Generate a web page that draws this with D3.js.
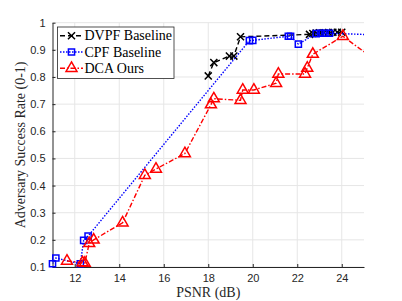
<!DOCTYPE html>
<html>
<head>
<meta charset="utf-8">
<script src="https://cdn.jsdelivr.net/npm/d3@7"></script>
<style>
  body { margin: 0; background: #fff; }
  svg { display: block; }
</style>
</head>
<body>
<svg id="chart"></svg>
<script>
// PSNR (dB) vs success rate
var dvpf = [
  {x: 18.0, y: 0.804}, {x: 18.25, y: 0.853}, {x: 18.95, y: 0.877}, {x: 19.15, y: 0.877},
  {x: 19.45, y: 0.948}, {x: 22.55, y: 0.957}, {x: 22.7, y: 0.960}, {x: 22.85, y: 0.962},
  {x: 23.0, y: 0.963}, {x: 23.2, y: 0.963}, {x: 23.4, y: 0.964}, {x: 23.6, y: 0.965},
  {x: 23.8, y: 0.965}, {x: 24.0, y: 0.965}
];

var cpf = [
  {x: 11.0, y: 0.112}, {x: 11.15, y: 0.133}, {x: 12.25, y: 0.112}, {x: 12.4, y: 0.198},
  {x: 12.6, y: 0.214}, {x: 19.85, y: 0.934}, {x: 20.0, y: 0.935}, {x: 21.6, y: 0.950},
  {x: 21.7, y: 0.950}, {x: 22.05, y: 0.921}, {x: 22.85, y: 0.960}, {x: 23.05, y: 0.961},
  {x: 23.25, y: 0.961}, {x: 23.45, y: 0.961}, {x: 25.6, y: 0.955}
];

var dca = [
  {x: 11.65, y: 0.122}, {x: 12.35, y: 0.116}, {x: 12.45, y: 0.114}, {x: 12.65, y: 0.187},
  {x: 12.85, y: 0.200}, {x: 14.15, y: 0.263}, {x: 15.15, y: 0.438}, {x: 15.65, y: 0.461},
  {x: 16.95, y: 0.518}, {x: 18.12, y: 0.698}, {x: 18.25, y: 0.720}, {x: 19.45, y: 0.714},
  {x: 19.55, y: 0.752}, {x: 20.05, y: 0.752}, {x: 21.05, y: 0.777}, {x: 21.15, y: 0.811},
  {x: 22.35, y: 0.811}, {x: 22.45, y: 0.833}, {x: 22.7, y: 0.884}, {x: 24.05, y: 0.950},
  {x: 25.6, y: 0.857}
];

var xTicks = [12, 14, 16, 18, 20, 22, 24];
var yTicks = [0.1, 0.2, 0.3, 0.4, 0.5, 0.6, 0.7, 0.8, 0.9, 1];
var names = ["DVPF Baseline", "CPF Baseline", "DCA Ours"];

var width = 402, height = 301;
var plotLeft = 52.5, plotRight = 364, plotTop = 22.7, plotBottom = 267;

var svg = d3.select("#chart")
    .attr("width", width)
    .attr("height", height);

var xScale = d3.scaleLinear().domain([11, 25]).range([plotLeft, plotRight]);
var yScale = d3.scaleLinear().domain([0.1, 1]).range([plotBottom, plotTop]);

var axisColor = "#262626";
var sans = "'Liberation Sans', Arial, sans-serif";
var serif = "'DejaVu Serif', 'Liberation Serif', serif";

// grid
svg.append("g").selectAll("line").data(xTicks).enter().append("line")
    .attr("x1", function(d) { return xScale(d); })
    .attr("x2", function(d) { return xScale(d); })
    .attr("y1", plotTop).attr("y2", plotBottom)
    .attr("stroke", "#e6e6e6").attr("stroke-width", 1);

svg.append("g").selectAll("line").data(yTicks).enter().append("line")
    .attr("x1", plotLeft).attr("x2", plotRight)
    .attr("y1", function(d) { return yScale(d); })
    .attr("y2", function(d) { return yScale(d); })
    .attr("stroke", "#e6e6e6").attr("stroke-width", 1);

// axes
var xAxis = svg.append("g")
    .attr("transform", "translate(0," + plotBottom + ")")
    .call(d3.axisBottom(xScale).tickValues(xTicks).tickSizeInner(-3).tickSizeOuter(0).tickPadding(7));

var yAxis = svg.append("g")
    .attr("transform", "translate(" + plotLeft + ",0)")
    .call(d3.axisLeft(yScale).tickValues(yTicks).tickSizeInner(-3).tickSizeOuter(0).tickPadding(7)
        .tickFormat(function(d) { return d === 1 ? "1" : d3.format(".1f")(d); }));

[xAxis, yAxis].forEach(function(a) {
    a.select(".domain").attr("stroke", axisColor).attr("stroke-width", 1);
    a.selectAll(".tick line").attr("stroke", axisColor);
    a.selectAll(".tick text").attr("fill", axisColor)
        .style("font-family", sans).style("font-size", "11px");
});

// axis labels
svg.append("text")
    .attr("x", (plotLeft + plotRight) / 2)
    .attr("y", 297)
    .style("text-anchor", "middle")
    .style("font-family", "'Liberation Serif', serif")
    .style("font-size", "14px")
    .attr("fill", axisColor)
    .text("PSNR (dB)");

svg.append("text")
    .attr("transform", "translate(25," + ((plotTop + plotBottom) / 2) + ") rotate(-90)")
    .style("text-anchor", "middle")
    .style("font-family", "'Liberation Serif', serif")
    .style("font-size", "14px")
    .attr("fill", axisColor)
    .text("Adversary Success Rate (0-1)");

// clip lines to the axes box (markers stay whole)
svg.append("defs").append("clipPath").attr("id", "clip")
    .append("rect").attr("x", plotLeft).attr("y", plotTop - 6)
    .attr("width", plotRight - plotLeft).attr("height", plotBottom - plotTop + 6);

var plot = svg.append("g");

var line = d3.line()
    .x(function(d) { return xScale(d.x); })
    .y(function(d) { return yScale(d.y); });

var star = d3.symbol().type(d3.symbolTimes).size(34);
var square = d3.symbol().type(d3.symbolSquare).size(38);
var tri = d3.symbol().type(d3.symbolTriangle).size(52);

var series = [
    {data: dvpf, color: "#000000", dash: "5,3", shape: star, sw: 1.4},
    {data: cpf, color: "#0000ff", dash: "1.5,1.5", shape: square, sw: 1.4},
    {data: dca, color: "#ff0000", dash: "5,2,1.5,2", shape: tri, sw: 1.4}
];

series.forEach(function(s) {
    plot.append("path")
        .datum(s.data)
        .attr("clip-path", "url(#clip)")
        .attr("d", line)
        .attr("fill", "none")
        .attr("stroke", s.color)
        .attr("stroke-width", s.sw)
        .attr("stroke-dasharray", s.dash);

    plot.append("g").selectAll("path")
        .data(s.data.filter(function(d) { return d.x <= 25; }))
        .enter().append("path")
        .attr("transform", function(d) { return "translate(" + xScale(d.x) + "," + yScale(d.y) + ")"; })
        .attr("d", s.shape)
        .attr("fill", "none")
        .attr("stroke", s.color)
        .attr("stroke-width", 1.5);
});

// legend
var legend = svg.append("g");
legend.append("rect")
    .attr("x", 57.5).attr("y", 27)
    .attr("width", 116.5).attr("height", 51.5)
    .attr("fill", "#fff")
    .attr("stroke", axisColor)
    .attr("stroke-width", 0.8);

series.forEach(function(s, i) {
    var cy = 35.7 + i * 16.3;
    legend.append("line")
        .attr("x1", 60).attr("x2", 83)
        .attr("y1", cy).attr("y2", cy)
        .attr("stroke", s.color)
        .attr("stroke-width", s.sw)
        .attr("stroke-dasharray", s.dash);
    legend.append("path")
        .attr("transform", "translate(71.5," + cy + ")")
        .attr("d", s.shape)
        .attr("fill", "none")
        .attr("stroke", s.color)
        .attr("stroke-width", 1.5);
    legend.append("text")
        .attr("x", 84.5).attr("y", cy + 4.5)
        .style("font-family", "'Liberation Serif', serif")
        .style("font-size", "14px")
        .attr("fill", "#000")
        .text(names[i]);
});
</script>
</body>
</html>
